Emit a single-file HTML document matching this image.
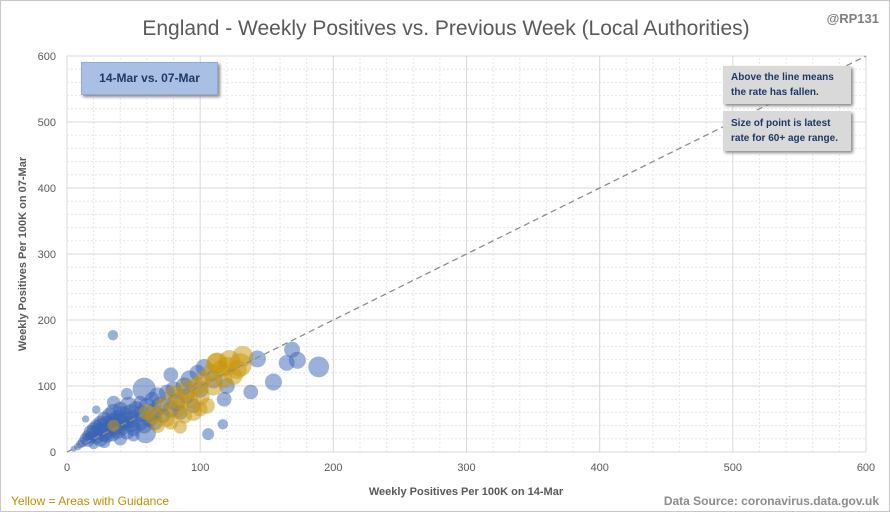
<!DOCTYPE html>
<html><head><meta charset="utf-8"><style>
body{margin:0;background:#fff;}
#wrap{position:relative;width:888px;height:510px;border:1px solid #c8c8c8;overflow:hidden;font-family:"Liberation Sans",sans-serif;}
.box{position:absolute;font-weight:bold;color:#1f3864;box-shadow:2px 2px 3px #888;}
</style></head><body>
<div id="wrap">
<svg id="chart" width="888" height="510"></svg>
<div class="box" style="left:80px;top:61px;width:135px;height:31px;background:#a9c0e4;border:1px solid #8eaadb;font-size:12px;line-height:31px;text-align:center;">14-Mar vs. 07-Mar</div>
<div class="box" style="left:722px;top:65px;width:128px;height:38px;background:#d9d9d9;font-size:10px;line-height:15px;padding:4px 0 0 8px;box-sizing:border-box;">Above the line means<br>the rate has fallen.</div>
<div class="box" style="left:722px;top:110px;width:128px;height:40px;background:#d9d9d9;font-size:10px;line-height:15px;padding:5px 0 0 8px;box-sizing:border-box;">Size of point is latest<br>rate for 60+ age range.</div>
</div>
<script>
const xTicks=[0,100,200,300,400,500,600];
const yTicks=[0,100,200,300,400,500,600];
const blueX=[5,8,10,12,14,15,16,18,18,20,20,22,22,24,25,25,26,28,28,30,30,32,32,34,34,35,36,38,38,40,40,42,42,44,45,46,48,48,50,50,52,54,55,56,58,58,59,60,62,64,65,66,68,70,72,75,78,78,80,82,85,88,90,92,95,98,100,103,106,110,117,118,120,138,143,155,165,169,173,189,34.5,22,14,45,35,20,28,40,50];
const blueY=[5,8,12,15,20,25,18,30,22,35,28,40,25,33,45,20,38,50,30,42,25,55,35,48,28,60,40,52,33,45,65,38,55,48,30,70,42,58,50,35,65,45,75,58,40,95,29,68,50,80,60,45,85,70,55,90,117,65,95,75,60,100,85,110,70,120,95,128,27,110,42,80,100,91,141,106,135,155,139,129,177,64,50,88,75,12,15,20,25];
const blueS=[10,15,20,30,40,30,50,60,40,50,70,45,80,60,50,70,90,60,100,80,60,70,90,60,70,80,100,70,80,90,60,70,100,80,60,90,70,100,80,60,70,90,50,80,70,150,120,90,70,60,90,70,80,90,60,70,60,80,70,90,60,80,70,90,60,70,80,80,40,90,30,60,70,60,80,80,70,70,80,120,30,20,15,40,50,30,40,50,40];
const yelX=[35,60,65,68,72,75,78,80,82,85,88,90,92,95,98,100,102,105,108,110,112,113,115,118,120,122,125,128,130,132,100,85];
const yelY=[40,60,55,40,70,50,45,88,65,78,55,95,80,60,100,85,110,70,120,100,135,135,125,110,130,138,115,125,132,145,65,38];
const yelS=[40,70,90,60,80,70,60,80,90,100,70,110,90,80,90,100,80,70,90,100,110,120,90,80,100,130,90,100,150,120,60,50];
const NS="http://www.w3.org/2000/svg";
const svg=document.getElementById('chart');
const X0=66,X1=865,Y0=451,Y1=55;
const sx=v=>X0+(v/600)*(X1-X0);
const sy=v=>Y0-(v/600)*(Y0-Y1);
function mk(t,a){const e=document.createElementNS(NS,t);for(const k in a)e.setAttribute(k,a[k]);svg.appendChild(e);return e;}
for(let v=20;v<600;v+=20){if(v%100===0)continue;
 let g=mk('line',{x1:sx(v),x2:sx(v),y1:Y0,y2:Y1,stroke:'#e6e6e6','stroke-dasharray':'2,2'});
 
 g=mk('line',{x1:X0,x2:X1,y1:sy(v),y2:sy(v),stroke:'#e6e6e6','stroke-dasharray':'2,2'});
 }
xTicks.forEach(v=>{const l=mk('line',{x1:sx(v),x2:sx(v),y1:Y0,y2:Y1,stroke:'#d9d9d9'});
 
 const t=mk('text',{x:sx(v),y:470,'text-anchor':'middle','font-size':'11',fill:'#595959'});t.textContent=v;
 });
yTicks.forEach(v=>{const l=mk('line',{x1:X0,x2:X1,y1:sy(v),y2:sy(v),stroke:'#d9d9d9'});
 
 const t=mk('text',{x:55,y:sy(v)+4,'text-anchor':'end','font-size':'11',fill:'#595959'});t.textContent=v;
 });
const r=s=>Math.sqrt(s)*0.95;
blueX.forEach((x,i)=>{const c=mk('circle',{cx:sx(x),cy:sy(blueY[i]),r:r(blueS[i]),fill:'rgba(58,100,180,0.5)'});
 });
yelX.forEach((x,i)=>{const c=mk('circle',{cx:sx(x),cy:sy(yelY[i]),r:r(yelS[i]),fill:'rgba(200,150,10,0.5)'});
 });
const d=mk('line',{x1:sx(0),y1:sy(0),x2:sx(600),y2:sy(600),stroke:'#8c8c8c','stroke-width':1.3,'stroke-dasharray':'6,4'});

function txt(s,a,name){const t=mk('text',a);t.textContent=s;return t;}
txt('England - Weekly Positives vs. Previous Week (Local Authorities)',{x:445,y:34,'text-anchor':'middle','font-size':'21',fill:'#595959'},'chart-title');
txt('@RP131',{x:878,y:22,'text-anchor':'end','font-size':'13','font-weight':'bold',fill:'#7f7f7f'},'author-handle');
txt('Weekly Positives Per 100K on 14-Mar',{x:465,y:494,'text-anchor':'middle','font-size':'11','font-weight':'bold',fill:'#595959'},'x-axis-title');
txt('Weekly Positives Per 100K on 07-Mar',{x:0,y:0,'text-anchor':'middle','font-size':'11','font-weight':'bold',fill:'#595959',transform:'translate(25,253) rotate(-90)'},'y-axis-title');
txt('Yellow = Areas with Guidance',{x:10,y:504,'font-size':'12',fill:'#c09000'},'legend-note');
txt('Data Source: coronavirus.data.gov.uk',{x:878,y:504,'text-anchor':'end','font-size':'12','font-weight':'bold',fill:'#8c8c8c'},'data-source');
</script>
</body></html>
